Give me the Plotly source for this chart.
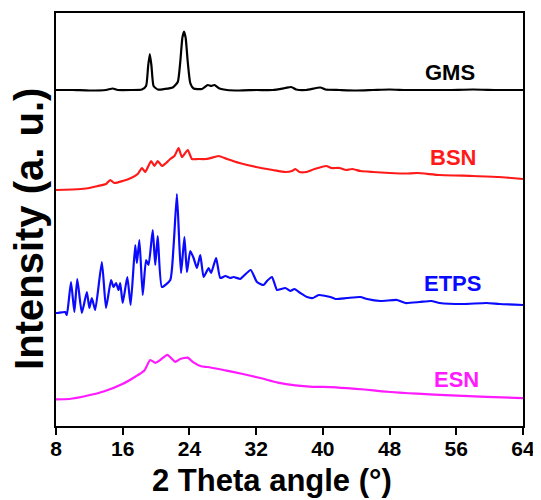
import plotly.graph_objects as go

# 2 theta (deg) and stacked intensity (a.u.) for each sample
gms_x = [8, 10, 12, 14, 14.8, 15.4, 17, 18.3, 18.8, 19.05, 19.25, 19.45, 19.7, 20.2, 21, 22, 22.6, 22.9, 23.15,
         23.35, 23.55, 23.8, 24.1, 24.5, 25.5, 26.2, 26.6, 27.0, 27.6, 28.5, 30, 32, 34, 35.5, 36.2, 36.8, 38,
         39.7, 40.3, 42, 44, 46, 48, 50, 52, 55, 58, 61, 64]
gms_y = [336, 336, 335.5, 336, 337.5, 336, 336, 336.5, 340, 360, 372, 360, 340, 336.5, 337, 338.5, 344, 364, 388,
         394.5, 388, 364, 343, 337.5, 337, 341, 340, 341, 337.5, 336, 335.5, 336, 336, 338, 339, 336.5, 336,
         338.5, 336.5, 336, 335.5, 336, 336.5, 336, 336, 336, 336.5, 336, 336]

bsn_x = [8, 10, 11, 12, 13, 14, 14.5, 15, 16, 17, 17.8, 18.3, 18.7, 19.4, 19.8, 20.2, 20.7, 21.2, 21.7, 22.2,
         22.7, 23.1, 23.8, 24.3, 25, 26, 27, 27.5, 28.5, 30, 32, 34, 35.5, 36.3, 36.7, 37.2, 38, 39, 40.4, 41,
         42, 42.8, 43.5, 44.5, 46, 48, 50, 51.3, 54, 58, 61, 64]
bsn_y = [236, 236.5, 237, 238, 240, 242, 246, 243, 245, 248, 252, 258, 254, 265, 260, 265, 260, 263, 267, 270,
         278, 269, 276, 267, 267, 267, 269, 270, 267, 263, 259, 256, 254, 255, 257, 254, 254, 257, 260, 258,
         258, 256, 257, 255, 254, 253, 252.5, 253, 251, 250, 249, 247]

etps_x = [8, 8.2, 9.1, 9.3, 9.8, 10.2, 10.55, 11.1, 11.7, 12.0, 12.3, 12.7, 13.5, 14.0, 14.6, 14.9, 15.2, 15.5,
          15.7, 16.0, 16.55, 16.95, 17.5, 17.7, 18.0, 18.4, 18.8, 19.1, 19.6, 19.9, 20.2, 20.7, 21.7, 22.1,
          22.5, 22.8, 23.0, 23.4, 23.7, 24.1, 24.5, 24.9, 25.3, 25.7, 26.3, 26.6, 27.2, 27.7, 28.3, 28.9, 29.3,
          30.1, 30.5, 31.35, 32.1, 32.9, 33.3, 33.9, 34.5, 35.0, 35.5, 36.1, 36.6, 37.3, 38.1, 38.8, 39.5,
          40.9, 41.5, 42.9, 44.5, 45.3, 46.9, 48.9, 49.9, 51.6, 53.0, 54.0, 56.8, 59.6, 61.2, 64]
etps_y = [113, 113, 114, 111, 144, 114, 147, 113, 134, 118, 128, 116, 164, 118, 146, 139, 143, 136,
          143, 123, 149, 121, 181, 163, 186, 131, 166, 161, 196, 161, 190, 139, 146, 180,
          232, 180, 153, 189, 154, 175, 168, 158, 171, 149, 158, 153, 168, 148, 150, 148, 149,
          147, 150, 156, 144, 141, 145, 149, 136, 137, 138, 135, 137, 133, 129, 128, 131,
          129, 127, 128, 129, 127, 125, 126, 123, 124, 125, 123, 122, 123, 122, 121]

esn_x = [8, 9.6, 11.7, 13.8, 15.9, 17.5, 18.6, 19.3, 19.9, 20.5, 21.35, 22.3, 22.9, 23.8, 24.4, 25.4, 26.2,
         28.3, 30.4, 32.5, 34.6, 36.7, 38.8, 40.9, 42.9, 45.0, 47.1, 49.2, 51.3, 55.4, 59.6, 64]
esn_y = [26.7, 27, 30.2, 34.7, 41.7, 49.3, 55.6, 66, 63.2, 66, 71.2, 64.2, 67, 68.4, 64.2, 59.7, 59,
         55.6, 52, 48, 43.4, 40.6, 39.2, 38.9, 37.8, 36.5, 34.7, 33.3, 32.3, 30.6, 29.2, 27.8]

names = ["GMS", "BSN", "ETPS", "ESN"]
colors = ["#000000", "#ff1a1a", "#0a0aff", "#ff1aff"]
label_x = [55.2, 55.6, 55.5, 56.0]
label_y = [354, 269, 143, 47]
x_ticks = [8, 16, 24, 32, 40, 48, 56, 64]

FONT = "Liberation Sans, Arial, sans-serif"

fig = go.Figure()
for xs, ys, c, n in [(gms_x, gms_y, colors[0], names[0]), (bsn_x, bsn_y, colors[1], names[1]),
                     (etps_x, etps_y, colors[2], names[2]), (esn_x, esn_y, colors[3], names[3])]:
    fig.add_trace(go.Scatter(x=xs, y=ys, mode="lines", name=n,
                             line=dict(color=c, width=2.2, shape="spline", smoothing=0.5),
                             showlegend=False))

for n, c, lx, ly in zip(names, colors, label_x, label_y):
    fig.add_annotation(x=lx, y=ly, xref="x", yref="y", text=n, showarrow=False,
                       font=dict(family=FONT, size=22, color=c, weight="bold"))

# axis titles
fig.add_annotation(x=0.4625, y=-0.133, xref="paper", yref="paper", text="2 Theta angle (°)",
                   showarrow=False, yanchor="middle",
                   font=dict(family=FONT, size=31, color="black", weight="bold"))
fig.add_annotation(x=-0.058, y=0.477, xref="paper", yref="paper", text="Intensity (a. u.)",
                   textangle=-90, showarrow=False, xanchor="center", yanchor="middle",
                   font=dict(family=FONT, size=40, color="black", weight="bold"))

fig.update_layout(
    width=533, height=492,
    margin=dict(l=48, r=18, t=5, b=74, autoexpand=False),
    paper_bgcolor="white", plot_bgcolor="white",
    font=dict(family=FONT, color="black"),
)
fig.update_xaxes(range=[8, 64], tickvals=x_ticks, ticktext=[str(t) for t in x_ticks],
                 ticks="outside", ticklen=7, tickwidth=2, tickcolor="black",
                 showline=True, linewidth=2, linecolor="black", mirror=True,
                 showgrid=False, zeroline=False, automargin=False, ticklabelstandoff=-4,
                 tickfont=dict(family=FONT, size=21, color="black", weight="bold"))
fig.update_yaxes(range=[0, 413], showticklabels=False, ticks="",
                 showline=True, linewidth=2, linecolor="black", mirror=True,
                 showgrid=False, zeroline=False, automargin=False)

fig.write_html("out.html")
